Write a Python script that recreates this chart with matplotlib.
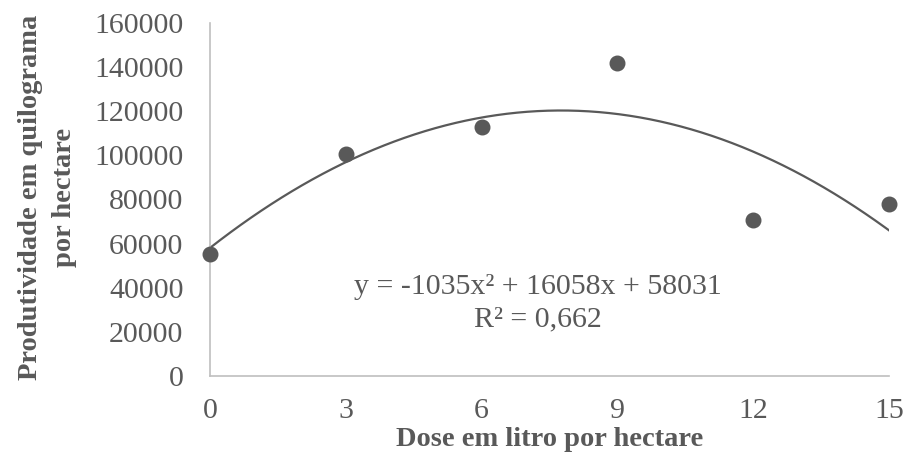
import matplotlib.pyplot as plt
import numpy as np

plt.rcParams['font.family'] = ['Liberation Serif', 'DejaVu Serif']

# dados
dose = [0, 3, 6, 9, 12, 15]
produtividade = [55300, 100500, 112800, 141800, 70700, 78000]
coef = [-1035, 16058, 58031]  # linha de tendencia polinomial
r2 = "0,662"

cinza = '#595959'

fig = plt.figure(figsize=(9.04, 4.59), dpi=100)
ax = fig.add_axes([0.2323, 0.181, 0.751, 0.769])

xs = np.linspace(0, 15, 200)
ax.plot(xs, np.polyval(coef, xs), color=cinza, linewidth=1.6, zorder=2)
ax.scatter(dose, produtividade, s=110, color=cinza, zorder=3, clip_on=False)

ax.set_xlim(0, 15)
ax.set_ylim(0, 160000)
ax.set_xticks(dose)
ax.set_yticks(range(0, 160001, 20000))
ax.tick_params(length=0, labelsize=21.5, colors=cinza)
ax.tick_params(axis='y', pad=19)
ax.tick_params(axis='x', pad=16)

for s in ['top', 'right']:
    ax.spines[s].set_visible(False)
for s in ['left', 'bottom']:
    ax.spines[s].set_color('#bfbfbf')
    ax.spines[s].set_linewidth(1.2)

ax.set_xlabel('Dose em litro por hectare', fontsize=20.5, fontweight='bold',
              color=cinza, labelpad=2)
ax.set_ylabel('Produtividade em quilograma\npor hectare', fontsize=20.5,
              fontweight='bold', color=cinza, linespacing=1.45)
ax.yaxis.set_label_coords(-0.196, 0.505)

ax.text(7.25, 33000, 'y = -1035x² + 16058x + 58031\nR² = ' + r2, ha='center',
        va='center', fontsize=21.5, color=cinza, linespacing=1.3)

fig.savefig('out.png', dpi=100)
